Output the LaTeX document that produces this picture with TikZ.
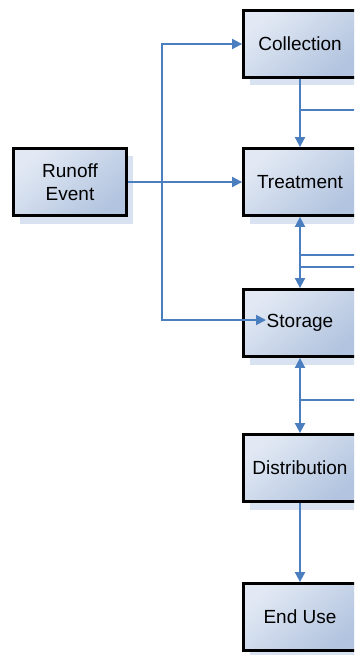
\documentclass[tikz,border=0pt]{standalone}
\usepackage{fontspec}
\setmainfont{Liberation Sans}
\usepackage{tikz}
\usetikzlibrary{arrows.meta,shadows}
\definecolor{flowblue}{HTML}{4A7EBF}
\definecolor{boxlight}{HTML}{E2E9F4}
\definecolor{boxdark}{HTML}{B2C4DF}
\definecolor{boxshade}{HTML}{D8E2F1}
\tikzset{
	stagebox/.style={draw=black, line width=2.8pt, top color=boxlight, bottom color=boxdark, shading angle=40,
		minimum width=113pt, minimum height=67pt, align=center, font=\fontsize{19}{23}\selectfont,
		drop shadow={shadow xshift=6pt, shadow yshift=-8pt, fill=boxshade, opacity=1}},
	flow/.style={draw=flowblue, line width=1.8pt, -{Triangle[length=10pt,width=10pt]}},
	twoway/.style={draw=flowblue, line width=1.8pt, {Triangle[length=10pt,width=10pt]}-{Triangle[length=10pt,width=10pt]}},
	branch/.style={draw=flowblue, line width=1.6pt}
}

\begin{document}
\begin{tikzpicture}[x=1pt, y=-1pt]
		%%%%% START %%%%%
		
		\useasboundingbox (0, 0) rectangle (354, 655);
		\clip (0, 0) rectangle (354, 655);
		
		\node[stagebox] (runoff) at (70, 182) {Runoff\\Event};
		
		\node[stagebox] (collect) at (300, 44) {Collection};
		\node[stagebox] (treat) at (300, 182) {Treatment};
		\node[stagebox] (store) at (300, 323) {Storage};
		\node[stagebox] (distrib) at (300, 468) {Distribution};
		\node[stagebox] (enduse) at (300, 617) {End Use};
		
		\coordinate (split) at (162, 182);
		\coordinate (storein) at (266, 320);
		
		\coordinate (out1) at (360, 110);
		\coordinate (out2) at (360, 255);
		\coordinate (out3) at (360, 267);
		\coordinate (out4) at (360, 400);
		
		\draw[flow] (runoff.east) -- (treat.west);
		\draw[flow] (split) |- (collect.west);
		\draw[flow] (split) |- (storein);
		
		\draw[flow] (collect.south) -- (treat.north);
		\draw[twoway] (treat.south) -- (store.north);
		\draw[twoway] (store.south) -- (distrib.north);
		\draw[flow] (distrib.south) -- (enduse.north);
		
		\draw[branch] (out1 -| collect) -- (out1);
		\draw[branch] (out2 -| treat) -- (out2);
		\draw[branch] (out3 -| treat) -- (out3);
		\draw[branch] (out4 -| store) -- (out4);
		
		%%%%% END %%%%%
	\end{tikzpicture}
\end{document}
